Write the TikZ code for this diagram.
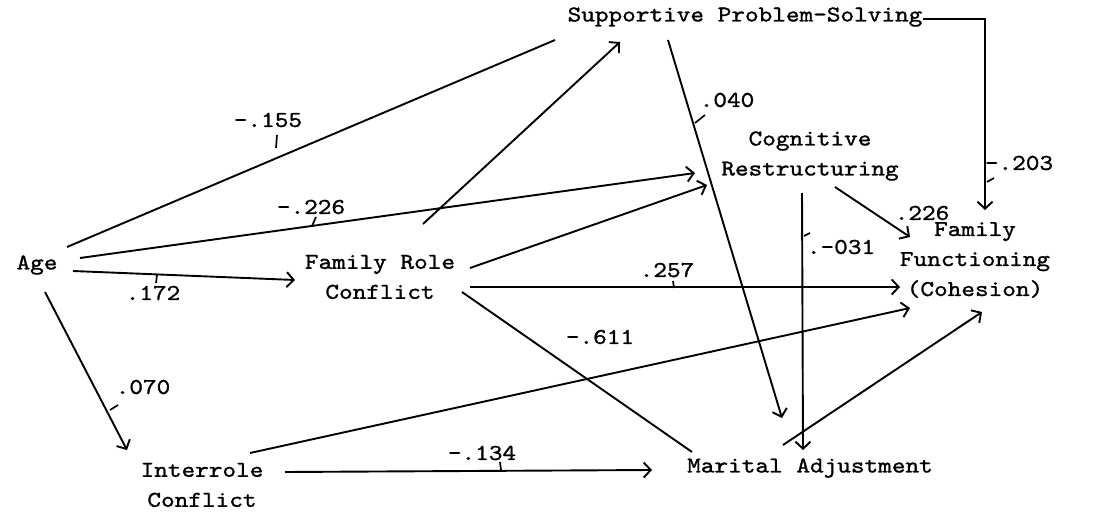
\documentclass[tikz,border=0pt]{standalone}
\usepackage{fontspec}
\usetikzlibrary{arrows.meta}
\newfontfamily\twfont{lmmono10-regular.otf}[FakeStretch=1.15,FakeBold=1.2]
\newcommand{\typefont}{\twfont\fontsize{22.6}{30}\selectfont}
\begin{document}
\begin{tikzpicture}[x=1pt,y=-1pt,
  every node/.style={inner sep=0pt,font=\typefont},
  vname/.style={align=center},
  coef/.style={},
  conn/.style={line width=1.9pt,-{Straight Barb[length=7pt,width=15pt,line width=1.9pt]}},
  plain/.style={line width=1.9pt},
  tick/.style={line width=1.7pt}]
\useasboundingbox[fill=white] (0,0) rectangle (1107,513);
% variables
\node[vname] (age) at (37,265) {Age};
\node[vname] (frc) at (380,277) {Family Role\\Conflict};
\node[vname] (sps) at (745,17) {Supportive Problem-Solving};
\node[vname] (cr) at (810,156) {Cognitive\\Restructuring};
\node[vname] (ff) at (975,260) {Family\\Functioning\\(Cohesion)};
\node[vname] (ima) at (202,485) {Interrole\\Conflict};
\node[vname] (ma) at (810,468) {Marital Adjustment};
% connectors from Age
\draw[plain] ([shift={(30,-18)}]age.center) -- ([shift={(-190,23)}]sps.center);
\draw[conn] ([shift={(43,-7)}]age.center) -- ([shift={(-115,17)}]cr.center);
\draw[conn] ([shift={(36,6)}]age.center) -- ([shift={(-85,3)}]frc.center);
\draw[conn] ([shift={(8,27)}]age.center) -- ([shift={(-75,-35)}]ima.center);
% from Family Role Conflict
\draw[conn] ([shift={(43,-53)}]frc.center) -- ([shift={(-125,25)}]sps.center);
\draw[conn] ([shift={(90,-9)}]frc.center) -- ([shift={(-103,29)}]cr.center);
\draw[conn] ([shift={(90,10)}]frc.center) -- ([shift={(-75,27)}]ff.center);
\draw[plain] ([shift={(82,15)}]frc.center) -- ([shift={(-118,-16)}]ma.center);
% from Interrole Conflict
\draw[conn] ([shift={(48,-32)}]ima.center) -- ([shift={(-65,48)}]ff.center);
\draw[conn] ([shift={(83,-13)}]ima.center) -- ([shift={(-158,2)}]ma.center);
% from Supportive Problem-Solving
\draw[conn] ([shift={(-77,23)}]sps.center) -- ([shift={(-28,-50)}]ma.center);
\draw[conn] ([shift={(178,2)}]sps.center) -| ([shift={(10,-50)}]ff.center);
% from Cognitive Restructuring
\draw[conn] ([shift={(-8,37)}]cr.center) -- ([shift={(-7,-18)}]ma.center);
\draw[conn] ([shift={(25,31)}]cr.center) -- ([shift={(-65,-23)}]ff.center);
% from Marital Adjustment
\draw[conn] ([shift={(-27,-23)}]ma.center) -- ([shift={(7,52)}]ff.center);
% coefficients
\node[coef] (c155) at (268,120) {-.155};
\node[coef] (c226a) at (311,207) {-.226};
\node[coef] (c172) at (153,293) {.172};
\node[coef] (c070) at (143,387) {.070};
\node[coef] (c040) at (727,100) {.040};
\node[coef] (c203) at (1019,163) {-.203};
\node[coef] (c226b) at (922,213) {.226};
\node[coef] (c031) at (841,247) {.-031};
\node[coef] (c257) at (667,270) {.257};
\node[coef] (c134) at (482,453) {-.134};
\node[coef] (c611) at (600,337) {-.611};
% ticks
\draw[tick] (277,135) -- (276,148);
\draw[tick] (316,217) -- (312,226);
\draw[tick] (157,275) -- (156,283);
\draw[tick] (110,410) -- (118,405);
\draw[tick] (695,123) -- (705,115);
\draw[tick] (987,182) -- (994,178);
\draw[tick] (804,236) -- (810,233);
\draw[tick] (673,281) -- (674,288);
\draw[tick] (500,462) -- (501,470);
\end{tikzpicture}
\end{document}
